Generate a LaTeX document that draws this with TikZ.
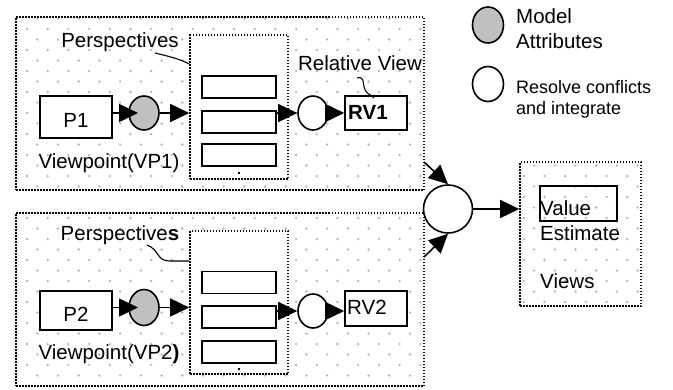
\documentclass[tikz,border=0pt]{standalone}
\usepackage{fontspec}
\setmainfont{Liberation Sans}
\usetikzlibrary{arrows.meta,calc,shapes.geometric}
\definecolor{dotc}{HTML}{B4B4B4}
\definecolor{attrgray}{HTML}{C0C0C0}
\begin{document}
\begin{tikzpicture}[x=1pt,y=-1pt,
  dotbox/.style={draw, line width=1.6pt, dash pattern=on 1.5pt off 1.5pt, inner sep=0pt},
  solidbox/.style={draw, line width=1.6pt, fill=white, inner sep=0pt},
  slot/.style={draw, line width=1.6pt, fill=white, minimum width=74pt, minimum height=22pt, inner sep=0pt},
  gcirc/.style={ellipse, draw, line width=1.6pt, fill=attrgray, minimum width=30pt, minimum height=34pt, inner sep=0pt},
  wcirc/.style={ellipse, draw, line width=1.6pt, fill=white, minimum width=30pt, minimum height=34pt, inner sep=0pt},
  arr/.style={-{Triangle[length=19pt,width=18pt]}, line width=1.6pt},
  lbl/.style={font=\fontsize{20.5}{23}\selectfont, inner sep=0pt},
  slbl/.style={font=\fontsize{18}{21}\selectfont, inner sep=0pt},
  thin/.style={line width=1.1pt},
  tinydot/.style={fill, inner sep=1pt},
]
\useasboundingbox (0,0) rectangle (673,389);

% background dot pattern
\begin{scope}
  \clip (16,17) rectangle (424,190) (16,213) rectangle (424,386) (520,162) rectangle (641,306);
  \foreach \j in {0,...,36} {
    \foreach \i in {0,...,31} {
      \fill[dotc] ({6.3+20.7*\i+10.35*mod(\j,2)}, {8+10.5*\j}) circle (1.3pt);
    }
  }
\end{scope}

% ---------- top viewpoint ----------
\node[dotbox, minimum width=408pt, minimum height=173pt] (vp1) at (220,103.5) {};
\node[dotbox, fill=white, minimum width=98pt, minimum height=144pt] (pb1) at (239,107) {};
\node[slot] (s11) at (239,87) {};
\node[slot] (s12) at (239,122) {};
\node[slot] (s13) at (239,155) {};
\node[tinydot] (d1) at (239,173) {};
\node[solidbox, minimum width=72pt, minimum height=42pt] (p1) at (76,117) {};
\node[lbl, anchor=base] (p1t) at (76,127) {P1};
\node[gcirc] (g1) at (144,113) {};
\node[wcirc] (w1) at (313,113) {};
\node[solidbox, minimum width=62pt, minimum height=34pt] (rv1) at (376,113) {};
\node[lbl, anchor=base west, font=\fontsize{20.5}{23}\selectfont\bfseries] (rv1t) at (348,119) {RV1};
\node[lbl, anchor=base] (per1) at (120,47) {Perspectives};
\node[lbl, anchor=base] (vpl1) at (109,168) {Viewpoint(VP1)};
\node[lbl, anchor=base] (rel) at (360,70) {Relative View};

\draw[arr] (p1.east |- g1.center) -- ($(g1.center)+(-6,0)$);
\draw[arr] (g1.east) -- (g1.east -| pb1.west);
\draw[arr] (w1.west -| s12.east) -- (w1.west);
\draw[arr] (w1.east) -- (w1.east -| rv1.west);
\coordinate (per1a) at (155,53);
\draw[thin] (per1a) .. controls (172,57) and (182,60) .. (pb1.west |- 0,64);
\coordinate (rela) at (357,78);
\coordinate (relb) at (374,98);
\draw[thin] (rela) .. controls (364,76) and (363,82) .. (364,87) .. controls (366,94) and (370,94) .. (relb);

% ---------- bottom viewpoint ----------
\node[dotbox, minimum width=408pt, minimum height=173pt] (vp2) at (220,299.5) {};
\node[dotbox, fill=white, minimum width=98pt, minimum height=143pt] (pb2) at (239,302.5) {};
\node[slot] (s21) at (239,282.5) {};
\node[slot] (s22) at (239,317) {};
\node[slot] (s23) at (239,352) {};
\node[tinydot] (d2) at (239,369) {};
\node[solidbox, minimum width=72pt, minimum height=39pt] (p2) at (76,310.5) {};
\node[lbl, anchor=base] (p2t) at (76,321) {P2};
\node[gcirc, minimum height=36pt] (g2) at (144,307.5) {};
\node[wcirc] (w2) at (313,311) {};
\node[solidbox, minimum width=62pt, minimum height=35pt] (rv2) at (376,308.5) {};
\node[lbl, anchor=base west] (rv2t) at (347,314) {RV2};
\node[lbl, anchor=base] (per2) at (120,240) {Perspective\textbf{s}};
\node[lbl, anchor=base] (vpl2) at (109,359) {Viewpoint(VP2\textbf{)}};

\draw[arr] (p2.east |- g2.center) -- ($(g2.center)+(-6,0)$);
\draw[arr] (g2.east) -- (g2.east -| pb2.west);
\draw[arr] (w2.west -| s22.east) -- (w2.west);
\draw[arr] (w2.east) -- (w2.east -| rv2.west);
\coordinate (per2a) at (147,245);
\draw[thin] (per2a) .. controls (160,250) and (156,261) .. (170,261) -- (pb2.west |- 0,261);

% ---------- merge and value ----------
\node[wcirc, minimum width=49pt, minimum height=48pt] (m) at (448,209) {};
\coordinate (c1) at (424,162);
\coordinate (c2) at (424,257);
\draw[arr] (c1) -- (m.north);
\draw[arr] (c2) -- (m.south);
\node[dotbox, minimum width=121pt, minimum height=144pt] (vb) at (580.5,234) {};
\draw[arr] (m.east) -- (m.east -| vb.west);
\node[draw, line width=1.6pt, minimum width=77pt, minimum height=35pt, inner sep=0pt] (vr) at (578.5,203.5) {};
\node[lbl, anchor=base west] (vt1) at (540,215) {Value};
\node[lbl, anchor=base west] (vt2) at (540,240) {Estimate};
\node[lbl, anchor=base west] (vt3) at (540,288) {Views};

% ---------- legend ----------
\node[gcirc, minimum width=31pt, minimum height=36pt] (lg) at (488,25) {};
\node[lbl, anchor=base west] (lg1) at (516,23) {Model};
\node[lbl, anchor=base west] (lg2) at (516,48) {Attributes};
\node[wcirc, minimum width=31pt, minimum height=35pt] (lw) at (488,84) {};
\node[slbl, anchor=base west] (lw1) at (516,93) {Resolve conflicts};
\node[slbl, anchor=base west] (lw2) at (516,114) {and integrate};
\end{tikzpicture}
\end{document}
